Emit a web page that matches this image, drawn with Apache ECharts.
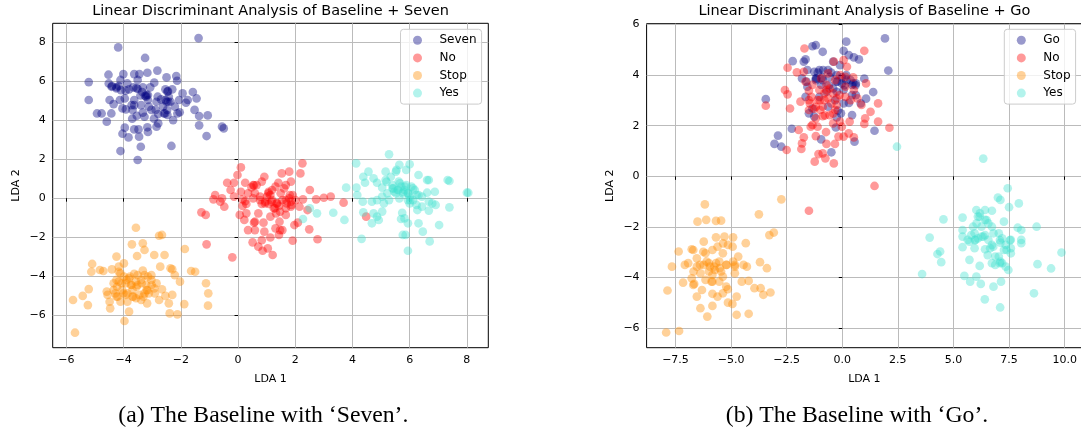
<!DOCTYPE html>
<html>
<head>
<meta charset="utf-8">
<script src="https://cdn.jsdelivr.net/npm/echarts@6/dist/echarts.min.js"></script>
<style>
html,body{margin:0;padding:0;background:#fff;}
#c{width:1081px;height:431px;}
</style>
</head>
<body>
<div id="c"></div>
<script>
// ---------- DATA ----------
const titleA = 'Linear Discriminant Analysis of Baseline + Seven';
const titleB = 'Linear Discriminant Analysis of Baseline + Go';
const captionA = '(a) The Baseline with \u2018Seven\u2019.';
const captionB = '(b) The Baseline with \u2018Go\u2019.';
const legendA = ['Seven', 'No', 'Stop', 'Yes'];
const legendB = ['Go', 'No', 'Stop', 'Yes'];
const xTicksA = [-6, -4, -2, 0, 2, 4, 6, 8];
const yTicksA = [-6, -4, -2, 0, 2, 4, 6, 8];
const xTicksB = [-7.5, -5, -2.5, 0, 2.5, 5, 7.5, 10];
const yTicksB = [-6, -4, -2, 0, 2, 4, 6];

const sevenA = [[-4.19,7.74],[-1.38,8.22],[-3.25,7.20],[-5.22,5.96],[-5.22,5.04],[-4.53,6.34],[-4.01,6.37],[-3.63,6.37],[-3.45,6.37],[-3.17,6.44],[-2.82,6.55],[-2.50,6.20],[-2.16,6.27],[-2.13,6.03],[-2.93,5.93],[-4.52,5.89],[-4.41,5.76],[-4.25,5.64],[-4.09,5.55],[-3.81,5.59],[-3.66,5.69],[-3.51,5.62],[-3.33,5.69],[-3.07,5.69],[-3.15,5.30],[-2.81,5.21],[-2.54,5.59],[-2.47,5.47],[-2.30,5.59],[-1.94,5.38],[-1.58,5.45],[-1.76,5.04],[-2.06,5.04],[-2.36,4.95],[-2.48,4.53],[-2.12,4.35],[-1.52,4.53],[-1.36,4.22],[-1.06,4.25],[-1.36,3.74],[-1.10,3.19],[-0.56,3.67],[-0.50,3.58],[-2.33,2.68],[-3.40,2.64],[-3.51,1.96],[-4.11,2.42],[-3.83,3.12],[-4.04,3.31],[-3.96,3.62],[-3.15,3.40],[-2.85,3.67],[-2.79,3.84],[-2.94,4.08],[-3.27,4.18],[-3.33,4.39],[-3.54,4.23],[-3.70,4.08],[-3.69,4.53],[-3.92,4.56],[-4.04,4.61],[-4.49,5.04],[-4.35,4.83],[-4.77,4.35],[-4.93,4.35],[-4.59,3.93],[-4.43,4.35],[-3.63,3.53],[-3.48,3.53],[-3.46,3.16],[-3.17,3.64],[-2.88,4.53],[-2.62,4.70],[-2.59,4.35],[-2.47,4.27],[-2.27,4.01],[-2.21,4.70],[-2.04,4.41],[-1.82,4.90],[-2.69,5.07],[-3.15,5.04],[-3.39,4.78],[-3.63,4.78],[-3.96,5.12],[-3.93,5.52],[-3.51,6.07],[-4.11,6.07],[-3.87,5.89],[-4.17,5.76],[-2.85,4.95],[-2.42,5.21],[-2.54,5.04],[-3.12,4.70],[-3.03,4.53],[-3.41,5.28],[-3.21,5.21],[-2.79,4.32],[-3.63,5.04],[-4.13,5.04],[-3.20,5.30],[-3.25,5.25],[-2.55,4.35],[-2.50,4.95],[-3.55,5.65],[-4.25,5.70],[-3.35,5.45],[-2.45,5.50],[-3.72,4.78],[-2.44,4.95],[-1.45,5.12],[-4.42,5.72]];
const noA = [[0.10,1.58],[2.25,1.79],[2.18,1.27],[1.79,1.36],[1.53,1.27],[0.92,1.10],[-0.02,1.19],[-0.38,0.79],[-0.14,0.79],[0.25,0.79],[0.56,0.66],[0.65,0.67],[0.83,0.85],[1.41,0.79],[1.67,0.67],[1.85,0.85],[-0.26,0.42],[0.10,0.33],[0.47,0.55],[1.07,0.33],[1.19,0.42],[1.31,0.59],[1.61,0.50],[1.91,0.16],[2.51,0.42],[-0.80,0.16],[-0.56,-0.01],[-0.86,-0.06],[-0.48,-0.44],[-0.62,-0.18],[0.16,-0.06],[0.25,-0.15],[0.53,-0.01],[0.77,0.08],[1.01,0.08],[1.19,-0.10],[1.37,-0.27],[1.55,-0.10],[1.79,-0.01],[2.01,-0.10],[2.27,-0.06],[2.73,-0.06],[3.00,0.02],[3.24,0.08],[3.69,-0.23],[2.43,-0.61],[2.15,-0.44],[1.85,-0.44],[1.43,-0.40],[1.07,-0.30],[0.83,-0.30],[0.71,-0.78],[0.16,-0.40],[0.06,-0.86],[0.22,-1.12],[-1.28,-0.73],[-1.13,-0.86],[0.89,-1.26],[0.56,-1.26],[0.59,-1.64],[0.35,-1.64],[0.92,-1.72],[1.33,-0.78],[1.67,-0.86],[1.45,-1.21],[1.31,-1.55],[1.55,-1.64],[1.97,-1.38],[2.09,-1.26],[2.49,-1.60],[1.91,-2.18],[2.78,-2.11],[1.43,-1.89],[1.13,-2.02],[0.83,-2.16],[0.51,-2.27],[0.71,-2.49],[0.86,-2.70],[1.04,-2.58],[1.21,-2.92],[-0.20,-3.04],[-1.10,-2.37],[0.29,-0.30],[1.67,-0.10],[1.85,-0.18],[4.48,-0.95],[0.59,0.25],[0.77,-0.10],[0.95,-0.18],[0.35,0.25],[-0.14,0.08],[1.13,0.16],[1.49,0.25],[1.25,-0.52],[1.67,-0.52],[1.13,-0.95],[0.29,-0.78],[1.06,0.25],[1.17,-0.18],[1.35,-0.27],[0.94,-0.27],[1.70,-0.27],[1.87,-0.35],[1.81,0.16],[0.53,0.67],[1.47,-0.70],[1.29,-0.52],[0.59,-1.21],[1.47,-1.64]];
const stopA = [[-3.57,-1.52],[-3.71,-2.37],[-3.33,-2.32],[-3.27,-2.66],[-2.76,-1.93],[-2.66,-1.89],[-1.86,-2.61],[-2.57,-2.92],[-2.93,-2.92],[-3.53,-2.97],[-4.25,-3.00],[-3.99,-3.35],[-5.10,-3.38],[-5.13,-3.78],[-4.83,-3.69],[-4.71,-3.74],[-4.41,-3.66],[-4.17,-3.52],[-4.17,-3.78],[-2.72,-3.52],[-2.36,-3.60],[-2.30,-3.66],[-2.21,-3.95],[-2.03,-4.29],[-1.64,-3.74],[-1.50,-3.78],[-1.12,-4.37],[-1.04,-4.89],[-1.05,-5.52],[-1.88,-5.44],[-2.12,-5.97],[-2.39,-5.92],[-2.42,-5.40],[-2.30,-4.97],[-2.66,-4.68],[-2.54,-5.02],[-2.76,-5.23],[-2.93,-4.63],[-3.21,-4.46],[-3.15,-4.03],[-3.33,-3.72],[-3.63,-3.89],[-3.81,-4.12],[-3.99,-4.03],[-4.17,-4.29],[-4.35,-4.37],[-4.23,-4.55],[-4.05,-4.72],[-3.87,-4.89],[-3.69,-4.72],[-3.51,-4.46],[-3.39,-4.20],[-3.03,-4.20],[-2.85,-4.37],[-2.91,-4.89],[-3.27,-4.89],[-3.39,-5.23],[-3.57,-5.14],[-3.87,-5.32],[-3.81,-5.83],[-3.97,-6.31],[-4.59,-4.80],[-4.56,-4.97],[-4.49,-5.32],[-4.47,-5.66],[-4.21,-5.06],[-4.11,-5.32],[-5.43,-5.02],[-5.77,-5.23],[-5.25,-5.49],[-5.22,-4.67],[-5.70,-6.91],[-3.18,-5.40],[-3.12,-4.89],[-3.57,-4.29],[-3.75,-4.46],[-3.93,-4.37],[-4.11,-3.86],[-3.51,-3.95],[-3.27,-3.95],[-3.03,-3.95],[-3.17,-4.72],[-3.45,-4.97],[-3.69,-5.06],[-3.93,-4.97],[-4.29,-4.89],[-4.35,-4.72],[-4.25,-4.20],[-4.07,-4.37],[-3.90,-4.20],[-3.72,-4.46],[-3.55,-4.55],[-3.37,-4.37],[-3.20,-4.72],[-3.02,-4.46],[-4.01,-4.89],[-3.66,-5.06],[-3.31,-5.06],[-4.25,-5.06],[-3.78,-4.03]];
const yesA = [[5.28,2.25],[4.13,1.79],[6.00,1.74],[5.64,1.71],[6.31,1.19],[5.88,1.45],[4.38,1.10],[4.56,1.36],[4.74,1.02],[5.16,1.36],[5.52,1.36],[5.34,1.10],[6.61,0.93],[6.67,0.93],[7.33,0.93],[7.39,0.88],[4.44,0.79],[4.86,0.79],[5.16,0.93],[3.78,0.54],[4.14,0.54],[4.17,0.16],[5.04,0.54],[5.40,0.50],[5.58,0.42],[5.70,0.59],[5.82,0.42],[6.06,0.59],[6.18,0.42],[6.31,0.16],[6.43,0.08],[6.00,0.08],[5.76,0.25],[5.46,0.33],[5.22,0.25],[5.04,0.08],[6.88,0.33],[8.00,0.28],[8.05,0.28],[4.36,-0.18],[4.68,-0.18],[4.86,-0.10],[5.10,-0.27],[5.28,-0.10],[5.64,-0.01],[5.94,-0.10],[6.00,-0.27],[6.24,-0.35],[6.43,-0.44],[6.67,-0.18],[6.79,-0.27],[6.91,-0.35],[7.39,-0.47],[6.27,-0.61],[6.67,-0.64],[4.38,-0.73],[4.74,-0.78],[4.86,-0.95],[5.04,-0.69],[4.68,-1.29],[4.92,-1.12],[5.74,-0.75],[5.82,-1.04],[5.70,-1.07],[5.94,-1.29],[6.31,-1.29],[6.46,-1.72],[7.03,-1.38],[5.76,-1.89],[5.86,-1.89],[4.32,-2.09],[6.70,-2.22],[5.94,-2.70],[3.72,-1.12],[3.33,-0.75],[2.76,-0.78],[2.27,-1.07],[2.51,-0.52],[5.40,0.67],[5.62,0.85],[5.88,0.67],[6.12,0.50],[5.94,0.25],[5.52,0.25],[6.61,0.28],[6.12,-0.10],[5.43,0.50],[5.60,0.42],[5.78,0.33],[5.95,0.25],[5.83,0.59],[6.02,-0.10],[5.66,0.76],[6.24,0.16],[5.19,0.84],[5.54,1.45]];

const goB = [[1.92,5.45],[0.18,5.32],[0.06,4.96],[-0.88,4.92],[-1.19,5.18],[-1.34,5.14],[-1.65,4.62],[-1.73,4.53],[-2.23,4.55],[2.07,4.18],[0.75,4.62],[0.52,4.70],[0.29,4.79],[-0.10,4.39],[-0.41,4.53],[-0.64,4.20],[-1.03,4.20],[-1.26,4.13],[-1.57,4.20],[-1.81,3.87],[-1.57,3.54],[-1.19,3.80],[-0.88,3.80],[-0.57,3.93],[-0.22,3.74],[0.18,4.00],[0.37,3.80],[0.61,3.67],[0.99,3.86],[1.39,3.33],[1.07,3.07],[0.61,3.21],[0.06,3.41],[-0.25,3.34],[-0.71,3.34],[-1.65,3.14],[-3.44,3.05],[0.44,2.42],[-0.06,2.49],[-0.25,2.33],[-0.29,1.93],[-0.95,1.46],[-0.49,0.95],[0.55,1.37],[1.45,1.80],[-2.27,1.88],[-2.89,1.61],[-3.05,1.28],[-2.74,1.17],[-1.50,2.49],[-1.34,2.68],[-1.26,2.36],[-0.64,2.75],[-0.32,3.01],[0.06,2.88],[-0.02,3.67],[-0.41,3.47],[-0.95,3.61],[-1.03,3.14],[0.83,2.88],[0.44,3.21],[0.44,3.61],[-0.25,4.00],[-1.19,3.86],[-0.02,3.91],[-1.10,4.10],[-0.90,3.90],[-0.50,4.10],[0.10,3.60],[0.60,3.60],[-0.60,3.60],[-0.20,2.60],[0.30,2.90],[-1.16,3.87],[-0.26,3.74],[-0.86,4.20],[-1.61,3.74],[0.19,3.80],[0.49,3.67]];
const noB = [[-1.70,5.05],[0.99,4.96],[-2.46,4.29],[-2.04,4.11],[-1.73,4.13],[-0.38,4.53],[0.06,4.59],[0.49,3.91],[1.07,3.67],[-2.58,3.41],[-2.46,3.24],[-2.35,2.68],[-1.88,2.95],[-1.50,3.01],[-1.03,3.41],[-0.80,3.28],[-0.57,3.47],[-0.25,3.08],[0.14,3.14],[0.52,3.41],[0.86,2.82],[1.27,2.55],[1.61,2.88],[2.12,1.92],[1.61,2.16],[1.03,2.29],[0.99,2.07],[0.33,2.16],[-0.02,1.96],[-0.17,1.57],[0.06,1.57],[0.52,1.54],[-0.33,1.28],[-0.38,0.51],[-0.76,0.71],[-1.07,0.88],[-0.88,0.91],[-1.24,0.58],[-0.71,1.28],[-1.19,1.59],[-1.73,1.54],[-1.81,1.30],[-1.84,1.08],[-2.50,1.04],[-3.44,2.79],[1.45,-0.38],[-1.50,-1.36],[-1.42,1.96],[-1.19,2.29],[-0.88,2.38],[-0.73,1.75],[-0.99,2.62],[-0.49,2.88],[-0.32,2.62],[-0.25,2.82],[-0.88,2.75],[-1.19,2.75],[-1.50,2.62],[-0.57,2.42],[-0.80,3.01],[-1.11,3.01],[-0.41,3.28],[-0.71,3.61],[-0.95,3.87],[-0.64,4.07],[-0.32,3.80],[-0.10,4.00],[0.21,4.33],[0.14,3.54],[0.37,3.01],[0.68,3.08],[0.14,3.93],[-1.34,2.03],[-1.96,1.83],[0.29,1.70],[-0.10,2.16],[-0.41,2.09],[-1.50,3.38],[-1.34,3.61],[-1.65,3.74],[-1.11,1.96],[-0.64,3.08],[-1.46,2.88],[-1.01,3.01],[-0.71,3.41],[-1.26,2.67],[-0.41,2.49],[-1.39,3.14],[-0.12,3.21],[-0.78,2.41]];
const stopB = [[-6.18,-1.11],[-2.74,-0.91],[-3.75,-1.50],[-3.28,-2.32],[-3.08,-2.22],[-6.51,-1.79],[-6.12,-1.72],[-5.68,-1.76],[-5.45,-1.75],[-4.34,-2.64],[-4.91,-2.41],[-5.30,-2.38],[-5.68,-2.41],[-6.23,-2.58],[-5.84,-2.91],[-6.77,-2.88],[-7.36,-2.97],[-7.66,-3.57],[-7.08,-3.50],[-6.93,-3.43],[-6.54,-3.57],[-6.23,-3.50],[-6.00,-3.43],[-5.53,-3.37],[-5.22,-3.50],[-4.91,-3.37],[-4.68,-3.17],[-4.44,-3.50],[-4.29,-3.57],[-3.70,-3.39],[-3.39,-3.63],[-6.38,-3.83],[-5.84,-3.89],[-5.37,-3.96],[-4.83,-3.83],[-7.16,-4.20],[-6.66,-4.25],[-5.84,-4.16],[-5.22,-4.36],[-4.52,-4.16],[-4.21,-4.13],[-3.95,-4.42],[-3.67,-4.42],[-3.55,-4.68],[-3.23,-4.59],[-7.86,-4.51],[-6.54,-4.75],[-5.84,-4.64],[-5.61,-4.75],[-5.15,-4.46],[-4.75,-4.75],[-6.38,-5.21],[-5.84,-5.12],[-4.94,-5.04],[-4.75,-5.47],[-4.21,-5.43],[-6.07,-5.54],[-7.92,-6.17],[-7.34,-6.11],[-6.54,-3.24],[-6.15,-3.04],[-5.76,-3.57],[-5.45,-3.76],[-6.00,-3.76],[-5.68,-3.43],[-5.37,-3.04],[-5.14,-2.71],[-5.61,-2.78],[-4.93,-2.78],[-4.83,-3.57],[-5.53,-4.16],[-6.15,-4.09],[-6.69,-3.76],[-6.77,-4.03],[-6.31,-4.49],[-5.37,-4.62],[-5.14,-4.99],[-6.40,-3.50],[-5.95,-3.57],[-5.73,-3.70],[-5.51,-3.63],[-6.10,-3.37],[-6.25,-2.98],[-6.70,-2.91],[-5.36,-2.65],[-5.88,-4.16],[-6.70,-4.29],[-4.83,-3.50],[-5.20,-3.50]];
const yesB = [[2.46,1.17],[6.34,0.70],[7.44,-0.47],[7.00,-0.84],[7.11,-0.93],[7.94,-1.07],[7.50,-1.22],[6.03,-1.33],[6.42,-1.33],[6.73,-1.36],[5.41,-1.63],[6.10,-1.59],[4.55,-1.70],[7.27,-1.79],[5.88,-1.99],[6.26,-1.99],[6.57,-1.86],[8.05,-2.12],[7.89,-2.03],[8.74,-1.99],[5.41,-2.12],[3.93,-2.42],[5.41,-2.38],[5.80,-2.32],[6.10,-2.45],[6.42,-2.32],[6.80,-2.25],[7.19,-2.45],[7.58,-2.51],[8.05,-2.51],[8.05,-2.64],[5.41,-2.80],[5.95,-2.84],[6.42,-2.88],[6.73,-2.71],[7.11,-2.62],[7.58,-2.84],[4.40,-2.97],[4.28,-3.07],[4.45,-3.39],[5.72,-3.30],[6.18,-3.54],[6.73,-3.43],[7.19,-3.43],[7.47,-3.70],[6.88,-3.17],[6.54,-3.11],[9.86,-3.01],[9.39,-3.64],[8.78,-3.47],[8.62,-4.62],[3.59,-3.86],[5.49,-3.93],[5.75,-4.16],[6.03,-3.96],[6.23,-4.25],[6.80,-4.36],[7.14,-4.16],[6.41,-4.86],[7.10,-5.18],[7.04,-3.17],[7.35,-3.57],[6.57,-2.51],[6.26,-2.38],[5.72,-2.58],[6.18,-1.59],[6.42,-1.72],[6.73,-1.99],[7.04,-2.25],[7.35,-2.71],[7.58,-3.04],[7.11,-3.37],[6.88,-3.50],[5.95,-2.25],[5.64,-2.51],[5.99,-2.51],[6.65,-2.84],[7.27,-2.91],[7.09,-2.52],[6.79,-2.78],[6.34,-2.38],[6.04,-1.86],[6.19,-1.46],[7.39,-2.91],[7.09,-3.43],[6.49,-1.73],[7.54,-2.52],[5.96,-2.52]];

// ---------- STYLE ----------
const C = {
  navy: 'rgba(0,0,128,0.5)',
  red: 'rgba(255,0,0,0.5)',
  orange: 'rgba(255,140,0,0.5)',
  turq: 'rgba(64,224,208,0.5)'
};
const FONT = 'DejaVu Sans';
const SYM = 8.7;
const minus = v => (v < 0 ? '\u2212' + Math.abs(v) : String(v));
const minus1 = v => (v < 0 ? '\u2212' + Math.abs(v).toFixed(1) : v.toFixed(1));

function xAxis(gi, min, max, ticks, fmt) {
  return {
    type: 'value', gridIndex: gi, min: min, max: max,
    name: 'LDA 1', nameLocation: 'middle', nameGap: 26,
    nameTextStyle: { fontFamily: FONT, fontSize: 11, color: '#000' },
    axisLine: { show: false },
    axisTick: { show: true, inside: false, length: 3.5, customValues: ticks, lineStyle: { color: '#000', width: 1 } },
    axisLabel: { customValues: ticks, formatter: fmt, margin: 7, fontFamily: FONT, fontSize: 11, color: '#000' },
    splitLine: { show: true, customValues: ticks, lineStyle: { color: '#bbbbbb', width: 1 } }
  };
}
function yAxis(gi, min, max, ticks, fmt) {
  return {
    type: 'value', gridIndex: gi, min: min, max: max,
    name: 'LDA 2', nameLocation: 'middle', nameGap: 31, nameRotate: 90,
    nameTextStyle: { fontFamily: FONT, fontSize: 11, color: '#000' },
    axisLine: { show: false },
    axisTick: { show: true, inside: false, length: 3.5, customValues: ticks, lineStyle: { color: '#000', width: 1 } },
    axisLabel: { customValues: ticks, formatter: fmt, margin: 7, fontFamily: FONT, fontSize: 11, color: '#000' },
    splitLine: { show: true, customValues: ticks, lineStyle: { color: '#bbbbbb', width: 1 } }
  };
}
function sc(name, data, color, gi) {
  return {
    type: 'scatter', name: name, data: data, xAxisIndex: gi, yAxisIndex: gi,
    symbol: 'circle', symbolSize: SYM,
    itemStyle: { color: color, borderWidth: 0 },
    emphasis: { disabled: true }, animation: false
  };
}
function legend(left, top, names) {
  return {
    data: names.map(n => ({ name: n, icon: 'circle' })),
    orient: 'vertical', left: left, top: top,
    itemWidth: 34, itemHeight: 9, itemGap: 5.6,
    padding: [5, 5, 5, 12.5],
    backgroundColor: 'rgba(255,255,255,0.8)',
    borderColor: '#cccccc', borderWidth: 1, borderRadius: 3,
    textStyle: { fontFamily: FONT, fontSize: 12, color: '#000', lineHeight: 12 },
    selectedMode: false
  };
}

const chart = echarts.init(document.getElementById('c'), null, { renderer: 'canvas' });
chart.setOption({
  backgroundColor: '#fff',
  animation: false,
  title: [
    { text: titleA, left: 270.5, top: 3.7, textAlign: 'center', padding: 0,
      textStyle: { fontFamily: FONT, fontSize: 14.5, fontWeight: 'normal', color: '#000', lineHeight: 16 } },
    { text: titleB, left: 864.4, top: 3.7, textAlign: 'center', padding: 0,
      textStyle: { fontFamily: FONT, fontSize: 14.5, fontWeight: 'normal', color: '#000', lineHeight: 16 } },
    { text: captionA, left: 263.4, top: 403, textAlign: 'center', padding: 0,
      textStyle: { fontFamily: 'Liberation Serif', fontSize: 23.7, fontWeight: 'normal', color: '#000', lineHeight: 26 } },
    { text: captionB, left: 857, top: 403, textAlign: 'center', padding: 0,
      textStyle: { fontFamily: 'Liberation Serif', fontSize: 23.7, fontWeight: 'normal', color: '#000', lineHeight: 26 } }
  ],
  legend: [legend(400.5, 29.3, legendA), legend(1004.3, 29.3, legendB)],
  grid: [
    { left: 52.7, top: 23.3, width: 435.6, height: 324.4, show: true, borderColor: '#000', borderWidth: 1, backgroundColor: 'transparent', containLabel: false, outerBoundsMode: 'none' },
    { left: 646.6, top: 23.7, width: 435.6, height: 324.0, show: true, borderColor: '#000', borderWidth: 1, backgroundColor: 'transparent', containLabel: false, outerBoundsMode: 'none' }
  ],
  xAxis: [xAxis(0, -6.48, 8.75, xTicksA, minus), xAxis(1, -8.80, 10.79, xTicksB, minus1)],
  yAxis: [yAxis(0, -7.68, 8.98, yTicksA, minus), yAxis(1, -6.77, 6.03, yTicksB, minus)],
  series: [
    sc('Seven', sevenA, C.navy, 0),
    sc('No', noA, C.red, 0),
    sc('Stop', stopA, C.orange, 0),
    sc('Yes', yesA, C.turq, 0),
    sc('Go', goB, C.navy, 1),
    sc('No', noB, C.red, 1),
    sc('Stop', stopB, C.orange, 1),
    sc('Yes', yesB, C.turq, 1)
  ]
});
</script>
</body>
</html>
